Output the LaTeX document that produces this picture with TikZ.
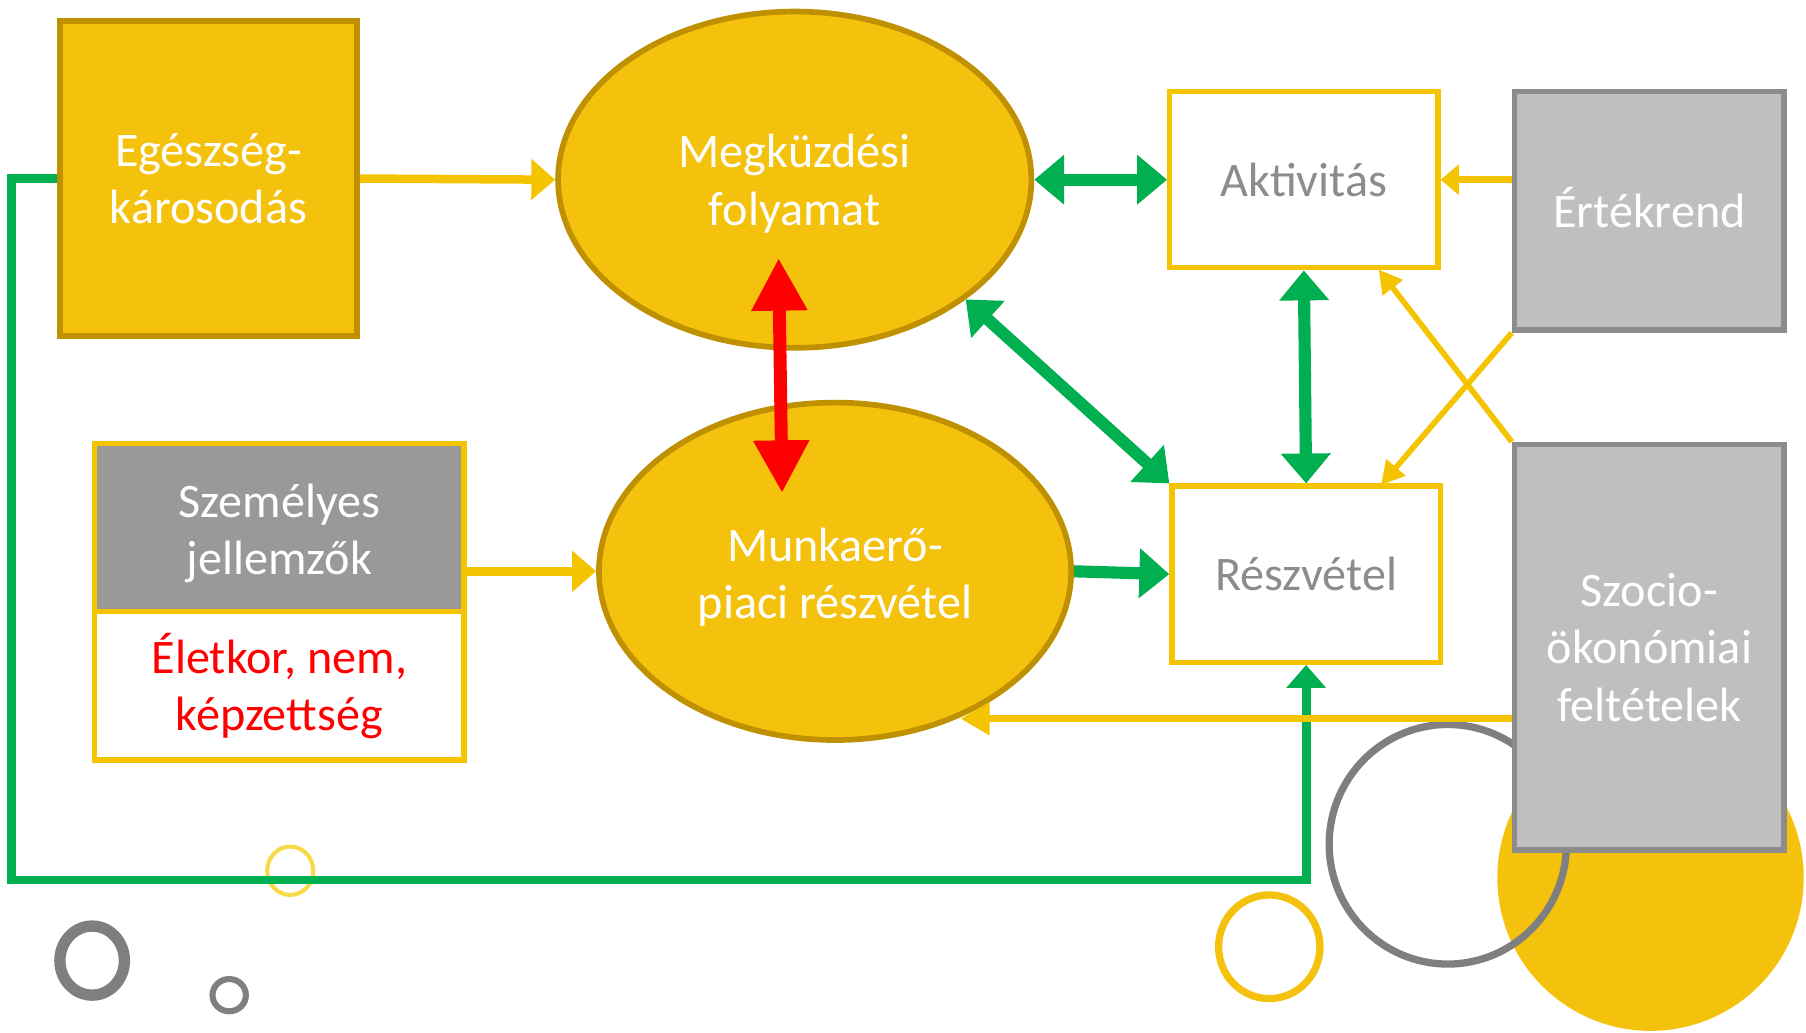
\documentclass[tikz,border=0pt]{standalone}
\usepackage{fontspec}
\setmainfont{Carlito}
\usetikzlibrary{arrows.meta,shapes.geometric,calc}
\definecolor{gold}{HTML}{F4C20D}
\definecolor{golddark}{HTML}{BF9000}
\definecolor{goldline}{HTML}{F5C400}
\definecolor{grn}{HTML}{00B050}
\definecolor{boxgray}{HTML}{BFBFBF}
\definecolor{boxgrayline}{HTML}{8C8C8C}
\definecolor{txtgray}{HTML}{8C8C8C}
\definecolor{darkgray}{HTML}{999999}
\definecolor{ringgray}{HTML}{7F7F7F}
\definecolor{redtxt}{HTML}{FF0000}
\newcommand\pxu{0.2845pt}
\newcommand\shifted[4]{\raisebox{0pt}[\dimexpr\height+#2\relax][\dimexpr\depth+#3\relax]{\parbox{#1}{\centering #4}}}
\begin{document}
\begin{tikzpicture}[x=0.1mm,y=-0.1mm,
  every node/.style={font=\fontsize{11.9}{14.2}\selectfont, align=center, inner sep=0pt},
  goldbox/.style={rectangle, fill=gold, draw=golddark, line width=1.4pt, text=white},
  goldell/.style={ellipse, fill=gold, draw=golddark, line width=1.4pt, text=white},
  whitebox/.style={rectangle, fill=white, draw=goldline, line width=1.3pt, text=txtgray},
  graybox/.style={rectangle, fill=boxgray, draw=boxgrayline, line width=1.4pt, text=white},
  szemtop/.style={rectangle, fill=darkgray, draw=goldline, line width=1.4pt, text=white},
  szembot/.style={rectangle, fill=white, draw=goldline, line width=1.4pt, text=redtxt},
  goldarr/.style={draw=goldline, line width=2.1pt, -{Triangle[length=5.9pt,width=9.8pt]}},
  goldthin/.style={draw=goldline, line width=1.4pt, -{Triangle[length=5.7pt,width=6pt]}},
  goldsmall/.style={draw=goldline, line width=1.7pt, -{Triangle[length=4.5pt,width=7.3pt]}},
  goldlow/.style={draw=goldline, line width=1.7pt, -{Triangle[length=7.2pt,width=7.8pt]}},
  grnarr/.style={draw=grn, line width=3pt, {Triangle[length=7.4pt,width=11.9pt]}-{Triangle[length=7.4pt,width=11.9pt]}},
  grnone/.style={draw=grn, line width=3pt, -{Triangle[length=7.4pt,width=11.9pt]}},
  grnloop/.style={draw=grn, line width=2.2pt, -{Triangle[length=5.7pt,width=9.5pt]}, line join=miter},
  redarr/.style={draw=red, line width=3.2pt, {Triangle[length=13pt,width=13pt]}-{Triangle[length=13pt,width=13pt]}},
  ring/.style={draw=ringgray}
]
\useasboundingbox (0,0) rectangle (1568,896);

% decorative circles
\draw[draw=gold!80!yellow, opacity=0.75, line width=1pt] (252,756) ellipse [x radius=20, y radius=21];
\draw[ring, line width=2.8pt] (80,834) ellipse [x radius=28, y radius=30];
\draw[ring, line width=1.5pt] (199,864) ellipse [x radius=14.5, y radius=14];
\fill[gold] (1433,762) ellipse [x radius=133, y radius=133];
\draw[ring, line width=1.8pt] (1257,733) ellipse [x radius=103, y radius=104];
\draw[draw=gold, line width=1.8pt] (1102,822) ellipse [x radius=44, y radius=45];

% nodes
\node[goldbox, minimum width=258*\pxu, minimum height=274*\pxu] (ege) at (181,155) {Egészség-\\károsodás};
\node[goldell, minimum width=411*\pxu, minimum height=292*\pxu] (megk) at (690,156) {\shifted{72pt}{2pt}{0pt}{Megküzdési\\folyamat}};
\node[goldell, minimum width=410*\pxu, minimum height=293*\pxu] (munk) at (725,496) {\shifted{74pt}{2.8pt}{0pt}{Munkaerő-\\piaci részvétel}};
\node[whitebox, minimum width=233*\pxu, minimum height=153*\pxu] (akt) at (1132,156) {Aktivitás};
\node[whitebox, minimum width=233*\pxu, minimum height=153*\pxu] (resz) at (1134,498.5) {Részvétel};
\node[graybox, minimum width=234*\pxu, minimum height=207*\pxu] (ert) at (1432,183) {\raisebox{0pt}[\height][\dimexpr\depth+1.7pt\relax]{Értékrend}};
\node[graybox, minimum width=234*\pxu, minimum height=352*\pxu] (szoc) at (1432,562) {Szocio-\\ökonómiai\\feltételek};
\node[szemtop, minimum width=321*\pxu, minimum height=146*\pxu] (szem) at (242.5,458) {\shifted{70pt}{2.8pt}{0pt}{Személyes\\jellemzők}};
\node[szembot, minimum width=321*\pxu, minimum height=129*\pxu] (szemb) at (242.5,595.5) {Életkor, nem,\\képzettség};

% helper coordinates
\coordinate (gl1) at (10,155);
\coordinate (gl2) at (10,764);
\coordinate (r1) at (676,224);
\coordinate (r2) at (679,428);
\coordinate (mtip) at (834,624);
\coordinate (reszin) at (1199,421);
\coordinate (aktin) at (1197,234);

% connectors
\draw[grnloop] (ege.west) -- (gl1) -- (gl2) -| (resz.south);
\draw[goldarr] (ege.east) -- (megk.west);
\draw[goldarr] (szem.east |- munk.west) -- (munk.west);
\draw[grnarr] (megk.east) -- (akt.west);
\draw[grnarr] (megk.-35) -- (resz.north west);
\draw[grnarr] (akt.south) -- (resz.north);
\draw[grnone] (munk.east) -- (resz.west);
\draw[goldsmall] (ert.west |- akt.east) -- (akt.east);
\draw[goldthin] (ert.south west) -- (reszin);
\draw[goldthin] (szoc.north west) -- (aktin);
\draw[goldlow] (szoc.west |- mtip) -- (mtip);
\draw[redarr] (r1) -- (r2);
\end{tikzpicture}
\end{document}
